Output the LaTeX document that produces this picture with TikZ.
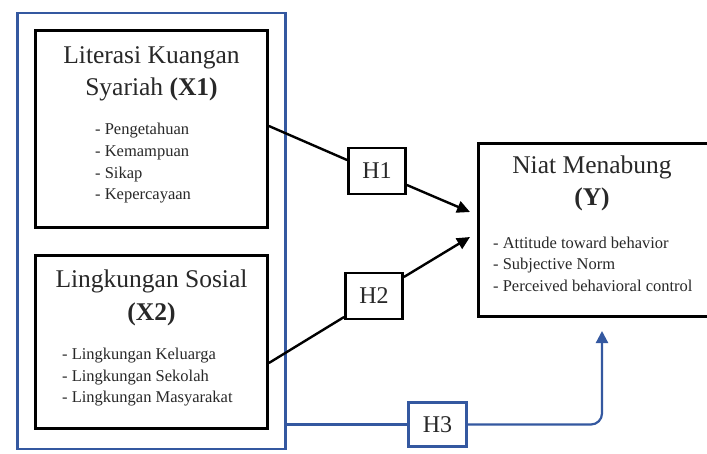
\documentclass[tikz,border=0pt]{standalone}
\usepackage{fontspec}
\setmainfont{Liberation Serif}
\usetikzlibrary{arrows.meta,calc}
\definecolor{bl}{RGB}{52,88,160}
\definecolor{txt}{RGB}{40,40,40}
\tikzset{
  box/.style={draw=black,line width=2.8pt,rectangle,inner sep=0pt},
  hbox/.style={box,font=\fontsize{24}{26}\selectfont,text=txt},
  ttl/.style={anchor=base,inner sep=0pt,text=txt,font=\fontsize{25.5}{30}\selectfont},
  itm/.style={anchor=base west,inner sep=0pt,text=txt,font=\fontsize{16.5}{20}\selectfont},
  conn/.style={draw=black,line width=2.4pt},
  arr/.style={conn,-{Triangle[length=13pt,width=12pt]}},
  bconn/.style={draw=bl,line width=2.2pt},
}
\begin{document}
\begin{tikzpicture}[x=1pt,y=-1pt]
\useasboundingbox (0,0) rectangle (707,453);
\clip (0,0) rectangle (707,453);
\fill[white] (0,0) rectangle (707,453);
% outer blue frame
\node[draw=bl,line width=2.2pt,minimum width=268pt,minimum height=436pt,inner sep=0pt] (O) at (151.5,231) {};
% X1
\node[box,minimum width=232pt,minimum height=197pt] (X1) at (151.5,129) {};
\node[ttl] (x1a) at (151.5,63) {Literasi Kuangan};
\node[ttl] (x1b) at (151.5,95) {Syariah \textbf{(X1)}};
\node[itm] (x1c) at (95,134) {- Pengetahuan};
\node[itm] (x1d) at (95,156) {- Kemampuan};
\node[itm] (x1e) at (95,178) {- Sikap};
\node[itm] (x1f) at (95,199) {- Kepercayaan};
% X2
\node[box,minimum width=232pt,minimum height=173pt] (X2) at (151.5,342) {};
\node[ttl] (x2a) at (151.5,287) {Lingkungan Sosial};
\node[ttl] (x2b) at (151.5,320) {\textbf{(X2)}};
\node[itm] (x2c) at (62,359) {- Lingkungan Keluarga};
\node[itm] (x2d) at (62,381) {- Lingkungan Sekolah};
\node[itm] (x2e) at (62,402) {- Lingkungan Masyarakat};
% Y
\node[box,minimum width=232pt,minimum height=173pt] (Y) at (594.5,230) {};
\node[ttl] (ya) at (592,173) {Niat Menabung};
\node[ttl] (yb) at (592,205) {\textbf{(Y)}};
\node[itm] (yc) at (493,248) {- Attitude toward behavior};
\node[itm] (yd) at (493,269) {- Subjective Norm};
\node[itm] (ye) at (493,291) {- Perceived behavioral control};
% hypothesis boxes
\node[hbox,minimum width=57pt,minimum height=46pt] (H1) at (377,171) {H1};
\node[hbox,minimum width=57pt,minimum height=46pt] (H2) at (374,296) {H2};
\node[box,draw=bl,line width=2.4pt,font=\fontsize{24}{26}\selectfont,text=txt,minimum width=58pt,minimum height=44pt] (H3) at (437.5,424.5) {H3};
% arrow tips
\coordinate (t1) at (470,212);
\coordinate (t2) at (470,237);
\coordinate (t3) at (602,331);
% connectors
\draw[conn] ($(X1.east)+(0,-3)$) -- ($(H1.west)+(0,-11)$);
\draw[arr] ($(H1.east)+(0,14)$) -- (t1);
\draw[conn] ($(X2.east)+(0,21)$) -- ($(H2.west)+(0,21)$);
\draw[arr] ($(H2.east)+(0,-19)$) -- (t2);
\draw[bconn] (O.east |- H3.west) -- (H3.west);
\draw[bconn,-{Triangle[length=12pt,width=12pt]},rounded corners=11pt] (H3.east) -| (t3);
\end{tikzpicture}
\end{document}
